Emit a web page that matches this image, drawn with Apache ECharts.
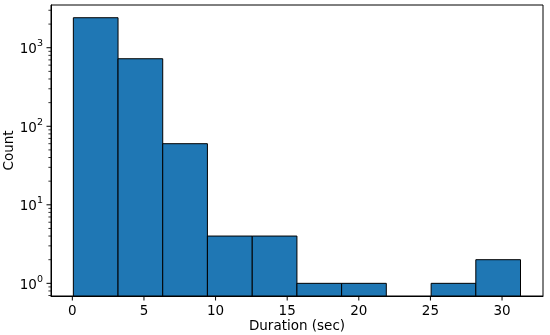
<!DOCTYPE html>
<html>
<head>
<meta charset="utf-8">
<script src="https://cdn.jsdelivr.net/npm/echarts@6/dist/echarts.min.js"></script>
<style>html,body{margin:0;padding:0;background:#fff;}#c{width:550px;height:335px;}</style>
</head>
<body>
<div id="c"></div>
<script>
// Histogram data
const binEdges = [0.07, 3.19, 6.31, 9.43, 12.56, 15.68, 18.80, 21.92, 25.05, 28.17, 31.29];
const counts = [2410, 724, 60, 4, 4, 1, 1, 0, 1, 2];
// Axis ranges and ticks
const xRange = [-1.49, 32.86];
const yRange = [0.69, 3500];
const xTickValues = [0, 5, 10, 15, 20, 25, 30];
const yMajorTicks = [1, 10, 100, 1000];
const yMinorTicks = [0.7, 0.8, 0.9, 2, 3, 4, 5, 6, 7, 8, 9, 20, 30, 40, 50, 60, 70, 80, 90,
  200, 300, 400, 500, 600, 700, 800, 900, 2000, 3000];

const FONT = 'DejaVu Sans';
const FS = 13.5;

const barData = [];
for (let i = 0; i < counts.length; i++) {
  if (counts[i] > 0) barData.push([binEdges[i], binEdges[i + 1], counts[i]]);
}
const tickData = [];
yMajorTicks.forEach(v => tickData.push([xRange[0], v, 4.5, 0]));
yMinorTicks.forEach(v => tickData.push([xRange[0], v, 2.6, 0]));
xTickValues.forEach(v => tickData.push([v, yRange[0], 4.5, 1]));

const chart = echarts.init(document.getElementById('c'), null, {renderer: 'canvas'});
chart.setOption({
  animation: false,
  textStyle: {fontFamily: FONT},
  grid: {left: 51, right: 7, top: 5, bottom: 39, outerBoundsMode: 'none', containLabel: false,
    show: true, borderColor: '#000', borderWidth: 1, backgroundColor: 'transparent'},
  xAxis: {
    type: 'value', min: xRange[0], max: xRange[1],
    name: 'Duration (sec)', nameLocation: 'middle', nameGap: 23, nameMoveOverlap: false,
    nameTextStyle: {fontFamily: FONT, fontSize: FS, color: '#000'},
    axisLine: {show: true, onZero: false, lineStyle: {color: '#000', width: 1}},
    axisTick: {show: false},
    splitLine: {show: false},
    axisLabel: {
      fontFamily: FONT, fontSize: FS, color: '#000', margin: 8,
      showMinLabel: false, showMaxLabel: false,
      formatter: function (v) {
        return xTickValues.indexOf(Math.round(v * 1000) / 1000) >= 0 ? String(Math.round(v)) : '';
      }
    }
  },
  yAxis: {
    type: 'log', logBase: 10, min: yRange[0], max: yRange[1],
    name: 'Count', nameLocation: 'middle', nameGap: 35, nameMoveOverlap: false,
    nameTextStyle: {fontFamily: FONT, fontSize: FS, color: '#000'},
    axisLine: {show: true, onZero: false, lineStyle: {color: '#000', width: 1}},
    axisTick: {show: false},
    minorTick: {show: false},
    splitLine: {show: false},
    axisLabel: {
      fontFamily: FONT, fontSize: FS, color: '#000', margin: 8,
      showMinLabel: false, showMaxLabel: false,
      formatter: function (v) {
        const l = Math.log10(v);
        const r = Math.round(l);
        if (Math.abs(l - r) > 1e-6) return '';
        return '{b|10}{s|' + r + '}';
      },
      rich: {
        b: {fontFamily: FONT, fontSize: FS, color: '#000', lineHeight: 18, verticalAlign: 'bottom'},
        s: {fontFamily: FONT, fontSize: 9.5, color: '#000', lineHeight: 18, verticalAlign: 'top'}
      }
    }
  },
  series: [
    {
      type: 'custom',
      clip: false,
      encode: {x: [0, 1], y: 2},
      data: barData,
      renderItem: function (params, api) {
        const cs = params.coordSys;
        const p0 = api.coord([api.value(0), api.value(2)]);
        const p1 = api.coord([api.value(1), api.value(2)]);
        const bottom = cs.y + cs.height;
        return {
          type: 'rect',
          shape: {x: p0[0], y: p0[1], width: p1[0] - p0[0], height: bottom - p0[1]},
          style: {fill: '#1f77b4', stroke: '#000', lineWidth: 1}
        };
      }
    },
    {
      type: 'custom',
      clip: false,
      silent: true,
      encode: {x: 0, y: 1},
      data: tickData,
      renderItem: function (params, api) {
        const cs = params.coordSys;
        const p = api.coord([api.value(0), api.value(1)]);
        const len = api.value(2);
        const kind = api.value(3);
        let shape;
        if (kind === 0) {
          shape = {x1: cs.x - len, y1: p[1], x2: cs.x, y2: p[1]};
        } else {
          const b = cs.y + cs.height;
          shape = {x1: p[0], y1: b, x2: p[0], y2: b + len};
        }
        return {type: 'line', shape: shape, style: {stroke: '#000', lineWidth: kind === 0 && len < 3 ? 0.8 : 1}};
      }
    }
  ]
});
</script>
</body>
</html>
